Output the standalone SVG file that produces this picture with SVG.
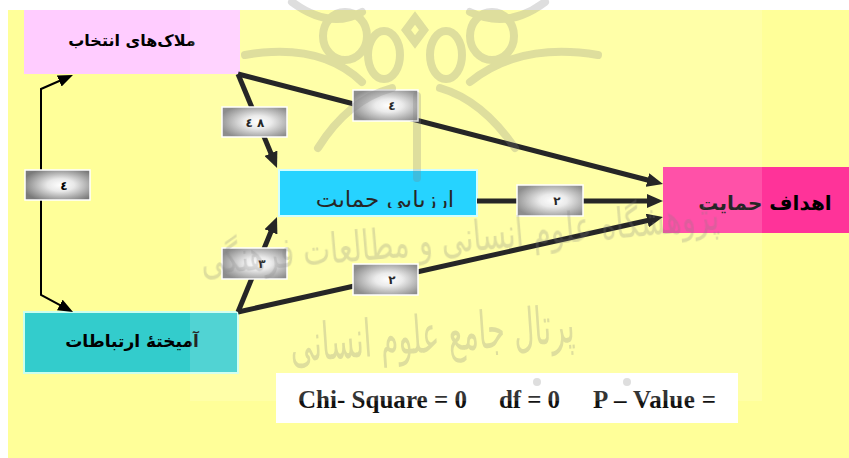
<svg xmlns="http://www.w3.org/2000/svg" width="849" height="458" viewBox="0 0 849 458">
  <defs>
    <style>
      .fa { font-family: "DejaVu Sans", "Noto Sans", sans-serif; font-weight: bold; fill: #000; }
      .lbl-box { fill: url(#lblGrad); stroke: #FFFFFF; stroke-width: 1.5; }
      .lbl-txt { font-family: "DejaVu Sans", sans-serif; font-weight: bold; font-size: 12px; fill: #000; text-anchor: middle; }
      .path-thick { fill: none; stroke: #000; stroke-width: 5; marker-end: url(#headThick); }
      .path-thin { fill: none; stroke: #000; stroke-width: 2; marker-start: url(#headThin); marker-end: url(#headThin); }
      .stat { font-family: "Liberation Serif", "Times New Roman", serif; font-weight: bold; font-size: 25px; fill: #111; }
      .wm { fill: none; stroke: #808080; stroke-width: 8; stroke-linecap: round; }
      .wm-txt { font-family: "DejaVu Sans", sans-serif; fill: #808080; }
    </style>
    <radialGradient id="lblGrad" cx="0.55" cy="0.5" r="0.6">
      <stop offset="0" stop-color="#FFFFFF"/>
      <stop offset="0.35" stop-color="#E8E8E8"/>
      <stop offset="1" stop-color="#7A7A7A"/>
    </radialGradient>
    <marker id="headThick" viewBox="0 0 16 14" markerUnits="userSpaceOnUse" markerWidth="16" markerHeight="14" refX="6" refY="7" orient="auto">
      <path d="M0,0 L16,7 L0,14 z" fill="#000"/>
    </marker>
    <marker id="headThin" viewBox="0 0 15 12" markerUnits="userSpaceOnUse" markerWidth="15" markerHeight="12" refX="5" refY="6" orient="auto-start-reverse">
      <path d="M0,0 L15,6 L0,12 z" fill="#000"/>
    </marker>
    <clipPath id="cutText">
      <rect x="279" y="170" width="198" height="38"/>
    </clipPath>
  </defs>

  <!-- page -->
  <rect x="0" y="0" width="849" height="458" fill="#FFFFFF"/>
  <rect x="8" y="10" width="841" height="448" fill="#FFFF99"/>

  <!-- nodes -->
  <g id="node-criteria">
    <rect x="24" y="10" width="216" height="64" fill="#FFCCFF"/>
    <text class="fa" x="132" y="46" font-size="16" text-anchor="middle">ملاک‌های انتخاب</text>
  </g>
  <g id="node-mix">
    <rect x="24" y="312" width="214" height="61" fill="#33CCCC" stroke="#CCFFEE" stroke-width="2"/>
    <text class="fa" x="132" y="347" font-size="17" text-anchor="middle">آمیختۀ ارتباطات</text>
  </g>
  <g id="node-eval">
    <rect x="279" y="170" width="198" height="46" fill="#00CCFF" stroke="#CCFFFF" stroke-width="2"/>
    <text x="385" y="207" font-family="DejaVu Sans, sans-serif" font-size="23" fill="#000" text-anchor="middle" clip-path="url(#cutText)">ارزیابی حمایت</text>
  </g>
  <g id="node-goals">
    <rect x="663" y="167" width="190" height="66" fill="#FF3399"/>
    <text class="fa" x="765" y="210" font-size="20" text-anchor="middle">اهداف حمایت</text>
  </g>

  <!-- connectors -->
  <g id="connectors">
    <path class="path-thin" d="M63.8,79 L41,89 L41,295 L64.2,307.3"/>
    <path class="path-thick" d="M238,74 L273.2,158.8"/>
    <path class="path-thick" d="M238,74 L653.3,181.5"/>
    <path class="path-thick" d="M477,201 L653,201"/>
    <path class="path-thick" d="M238,312 L273.2,226.3"/>
    <path class="path-thick" d="M238,312 L653.2,219.2"/>
  </g>

  <!-- path coefficients -->
  <g id="labels">
    <rect class="lbl-box" x="25" y="170" width="65" height="30"/>
    <text class="lbl-txt" x="64" y="190">٤</text>
    <rect class="lbl-box" x="222" y="107" width="65" height="30"/>
    <text class="lbl-txt" x="255" y="127">٨ ٤</text>
    <rect class="lbl-box" x="353" y="90" width="65" height="31"/>
    <text class="lbl-txt" x="392" y="110">٤</text>
    <rect class="lbl-box" x="517" y="185" width="66" height="31"/>
    <text class="lbl-txt" x="557" y="205">٢</text>
    <rect class="lbl-box" x="222" y="248" width="65" height="31"/>
    <text class="lbl-txt" x="262" y="268">٣</text>
    <rect class="lbl-box" x="353" y="264" width="65" height="31"/>
    <text class="lbl-txt" x="392" y="284">٢</text>
  </g>

  <!-- fit statistics -->
  <g id="stats">
    <rect x="276" y="373" width="462" height="50" fill="#FFFFFF"/>
    <text class="stat" x="298" y="408" textLength="169">Chi- Square = 0</text>
    <text class="stat" x="499" y="408" textLength="61">df = 0</text>
    <text class="stat" x="593" y="408" textLength="123">P – Value =</text>
  </g>

  <!-- light backdrop panel -->
  <rect x="190" y="0" width="572" height="401" fill="#FFFFFF" fill-opacity="0.15"/>

  <!-- backdrop emblem -->
  <g id="emblem" opacity="0.26">
    <ellipse class="wm" cx="384" cy="55" rx="16" ry="24"/>
    <ellipse class="wm" cx="446" cy="55" rx="16" ry="24"/>
    <ellipse class="wm" cx="345" cy="36" rx="22" ry="24"/>
    <ellipse class="wm" cx="492" cy="36" rx="22" ry="24"/>
    <path class="wm" d="M415,18 L424,30 L415,42 L406,30 z"/>
    <path class="wm" d="M245,55 Q320,42 362,82"/>
    <path class="wm" d="M598,55 Q520,42 470,82"/>
    <path class="wm" d="M318,148 Q348,100 392,88"/>
    <path class="wm" d="M515,148 Q482,100 440,88"/>
    <path class="wm" d="M417,178 L417,96"/>
    <path class="wm" d="M292,2 Q330,30 362,12"/>
    <path class="wm" d="M545,2 Q508,30 470,12"/>
    <text class="wm-txt" x="200" y="252" font-size="42" textLength="520" lengthAdjust="spacingAndGlyphs" transform="rotate(-5 460 240)">پژوهشگاه علوم انسانی و مطالعات فرهنگی</text>
    <text class="wm-txt" x="290" y="352" font-size="52" textLength="285" lengthAdjust="spacingAndGlyphs" transform="rotate(-4 432 340)">پرتال جامع علوم انسانی</text>
    <circle cx="537" cy="382" r="4" fill="#808080"/>
    <circle cx="627" cy="382" r="4" fill="#808080"/>
  </g>
</svg>
